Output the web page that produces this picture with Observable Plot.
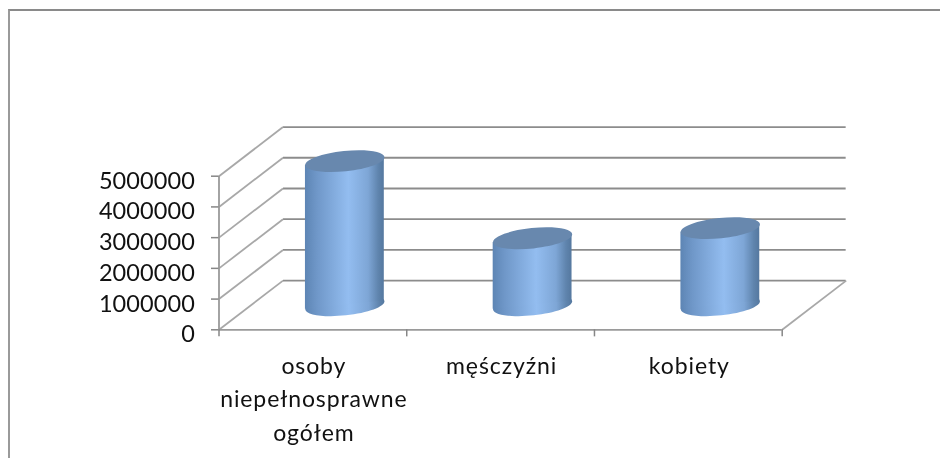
<!DOCTYPE html>
<html lang="pl"><head><meta charset="utf-8">
<script src="https://cdn.jsdelivr.net/npm/d3@7"></script>
<script src="https://cdn.jsdelivr.net/npm/@observablehq/plot@0.6"></script>
<style>
html,body{margin:0;padding:0;background:#fff;overflow:hidden;width:940px;height:458px}
.frame{position:absolute;left:8px;top:9px;right:0;bottom:0;border-top:2px solid #8a8a8a;border-left:2px solid #9a9a9a;box-sizing:border-box}
#chart{position:absolute;left:0;top:0}
#chart svg{filter:blur(.45px);background:transparent;display:block}
</style></head><body>
<div class="frame"></div><div id="chart"></div>
<script>
const categories = ["osoby\nniepełnosprawne\nogółem", "męśczyźni", "kobiety"];
const values = [4690000, 2180000, 2510000];
const yTicks = [0, 1000000, 2000000, 3000000, 4000000, 5000000];
const xEdges = [0, 1, 2, 3];
const depthX = 0.341;     // floor depth, in category units
const depthY = 1600000;   // floor depth, in value units
const halfWidth = 0.21;
const tickX = 0.04;       // tick length, in category units
const tickY = 230000;     // tick length, in value units
const rows = categories.map((c, i) => ({c, i, v: values[i]}));
const tilt = -6;
const grey = "#8c8c8c";
const FONT = "Lato, 'Open Sans', sans-serif";

const disc = {draw(ctx) {
  const a = 39.8, b = 10.2, t = tilt * Math.PI / 180, k = 0.5523;
  const p = (x, y) => [x * Math.cos(t) - y * Math.sin(t), x * Math.sin(t) + y * Math.cos(t)];
  const M = (...q) => ctx.moveTo(...p(...q));
  const C = (x1, y1, x2, y2, x, y) => ctx.bezierCurveTo(...p(x1, y1), ...p(x2, y2), ...p(x, y));
  M(a, 0);
  C(a, k * b, k * a, b, 0, b);
  C(-k * a, b, -a, k * b, -a, 0);
  C(-a, -k * b, -k * a, -b, 0, -b);
  C(k * a, -b, a, -k * b, a, 0);
  ctx.closePath();
}};

const defs = () => {
  const s = d3.create("svg:defs");
  s.html(`<linearGradient id="cyl" x1="0" x2="1" y1="0" y2="0">
    <stop offset="0" stop-color="#5d85b4"/><stop offset=".15" stop-color="#6f97c8"/>
    <stop offset=".55" stop-color="#93bdf0"/><stop offset=".8" stop-color="#7ea6d6"/>
    <stop offset=".93" stop-color="#5f84ad"/><stop offset="1" stop-color="#55789f"/>
  </linearGradient>`);
  return s.node();
};

const skew = (index, scales, ch, dim, ctx, next) => {
  const g = next(index, scales, ch, dim, ctx);
  g.querySelectorAll("rect").forEach(r => {
    const cx = +r.getAttribute("x") + r.getAttribute("width") / 2;
    r.setAttribute("transform", `translate(${cx},0) skewY(${tilt}) translate(${-cx},0)`);
  });
  return g;
};

const tightText = (index, scales, ch, dim, ctx, next) => {
  const g = next(index, scales, ch, dim, ctx);
  g.style.letterSpacing = "0.1px";
  return g;
};

const chart = Plot.plot({
  width: 940, height: 458, margin: 0,
  style: {background: "transparent", fontFamily: FONT, letterSpacing: "0.9px"},
  x: {domain: [0, 3], range: [218.5, 781.7], axis: null},
  y: {domain: [0, 5000000], range: [329.3, 175.7], axis: null},
  marks: [
    defs,
    // back wall gridlines
    Plot.link(yTicks, {x1: depthX, x2: 3 + depthX - 0.003, y1: d => d + depthY, y2: d => d + depthY, stroke: grey, strokeWidth: 1.8}),
    // side wall and floor diagonals
    Plot.link(yTicks, {x1: 0, x2: depthX, y1: d => d, y2: d => d + depthY, stroke: "#a8a8a8", strokeWidth: 1.8}),
    Plot.link([3], {x1: d => d, x2: d => d + depthX, y1: 0, y2: depthY, stroke: "#a8a8a8", strokeWidth: 1.8}),
    // axis lines and ticks
    Plot.ruleX([0], {y1: 0, y2: 5000000, stroke: "#9a9a9a", strokeWidth: 1.8}),
    Plot.ruleY([0], {x1: 0, x2: 3, stroke: "#9a9a9a", strokeWidth: 1.8}),
    Plot.ruleX(xEdges, {y1: 0, y2: -tickY, stroke: "#868686", strokeWidth: 1.5}),
    Plot.ruleY(yTicks, {x1: -tickX, x2: 0, stroke: "#868686", strokeWidth: 1.5}),
    // labels
    Plot.text(yTicks, {x: 0, y: d => d, text: d => String(d), dx: -24, dy: 5, textAnchor: "end", fontSize: 23.5, fill: "#111", render: tightText}),
    Plot.text(rows, {x: d => d.i + 0.5, y: 0, text: "c", dx: 1, dy: 20, lineAnchor: "top", lineHeight: 1.46, textAnchor: "middle", fontSize: 23, fill: "#111"}),
    // cylinders
    Plot.dot(rows, {x: d => d.i + 0.5 + depthX / 2, y: depthY / 2, symbol: () => disc, r: 1, fill: "url(#cyl)", stroke: "none"}),
    Plot.rect(rows, {x1: d => d.i + 0.5 + depthX / 2 - halfWidth, x2: d => d.i + 0.5 + depthX / 2 + halfWidth, y1: depthY / 2, y2: d => d.v + depthY / 2, fill: "url(#cyl)", inset: 0, render: skew}),
    Plot.dot(rows, {x: d => d.i + 0.5 + depthX / 2, y: d => d.v + depthY / 2, symbol: () => disc, r: 1, fill: "#6888ae", stroke: "none"})
  ]
});
document.getElementById("chart").appendChild(chart);
</script></body></html>
